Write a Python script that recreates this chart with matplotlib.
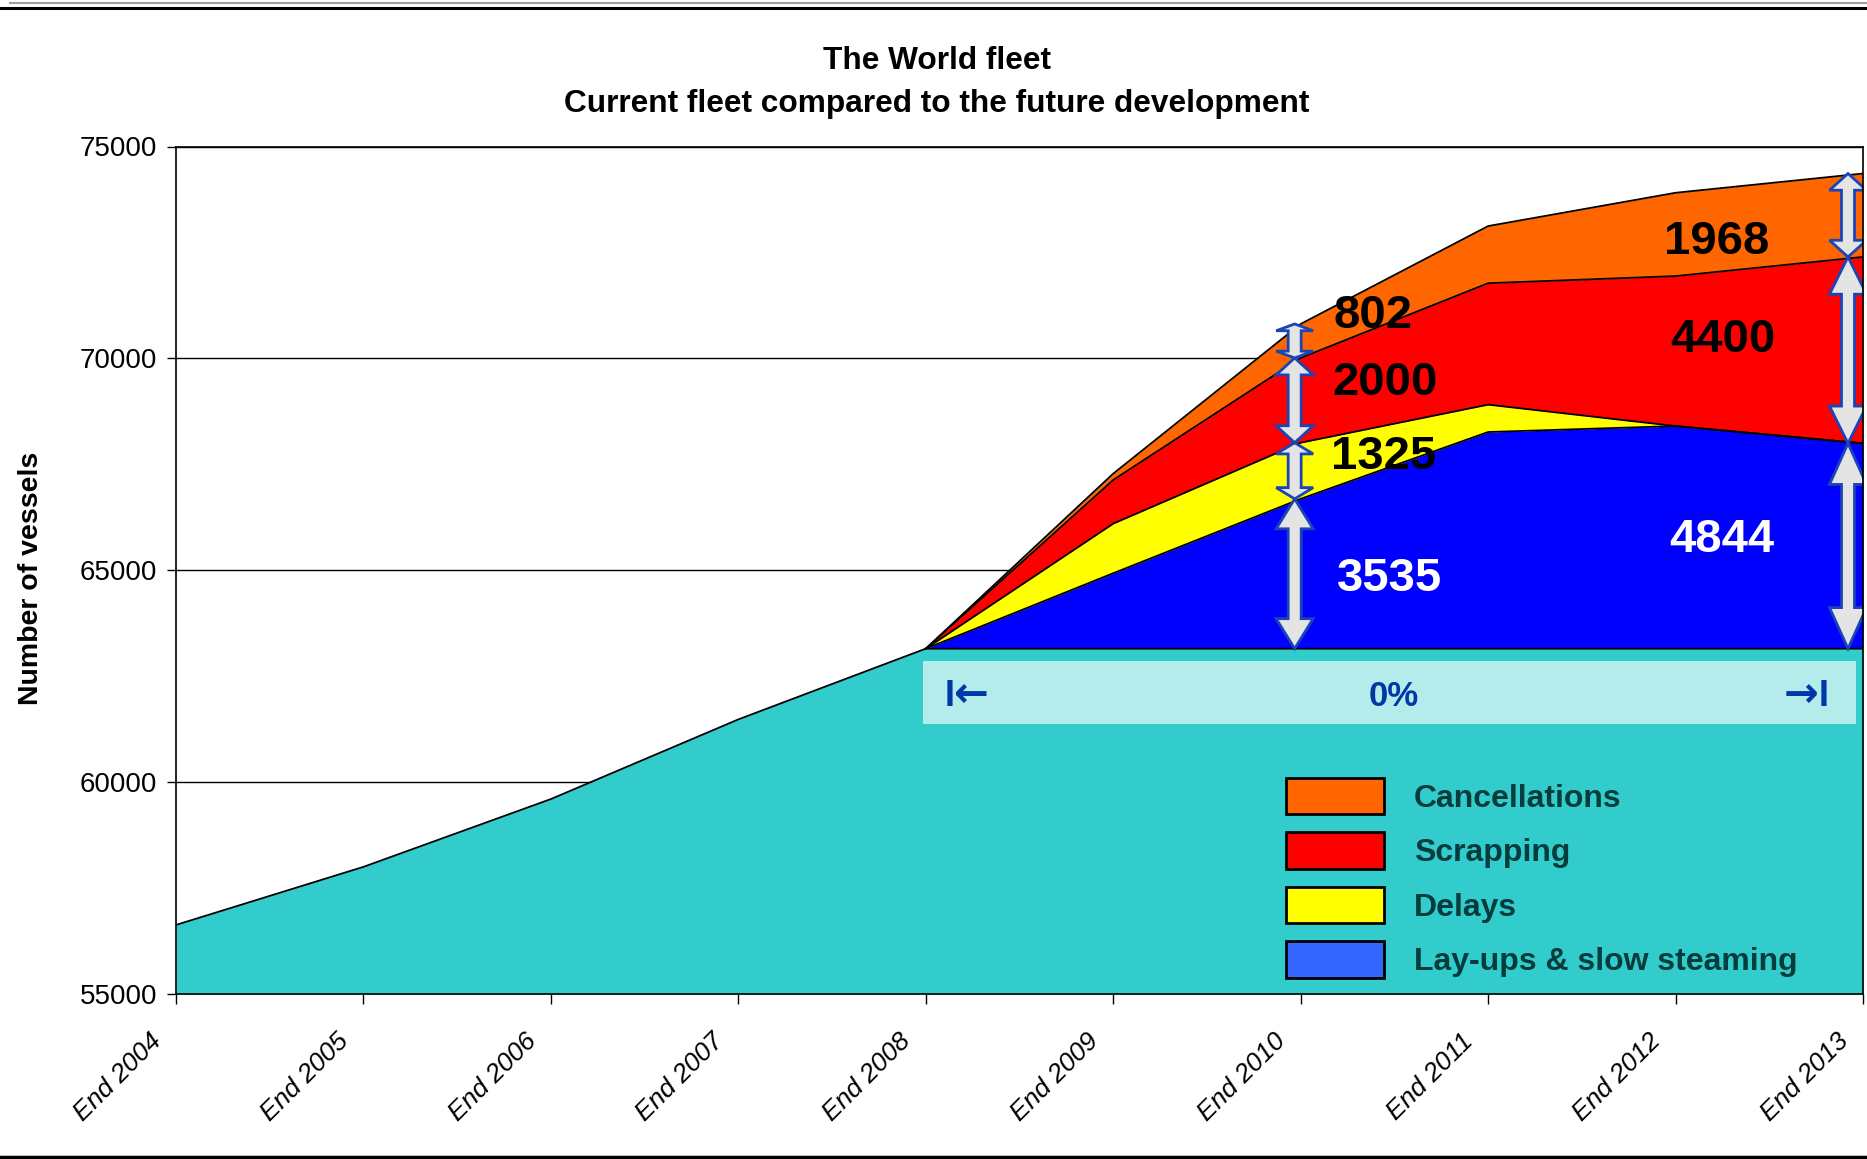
import numpy as np
import matplotlib
matplotlib.use("Agg")
import matplotlib.pyplot as plt
from matplotlib.patches import Polygon, Rectangle, Patch
from matplotlib.lines import Line2D
from matplotlib.transforms import IdentityTransform, ScaledTranslation
from matplotlib.font_manager import FontProperties

plt.rcParams['font.family'] = ['Liberation Sans', 'DejaVu Sans']

# ---------------- data ----------------
years = ["End 2004", "End 2005", "End 2006", "End 2007", "End 2008",
         "End 2009", "End 2010", "End 2011", "End 2012", "End 2013"]
current_fleet = [56630, 58000, 59600, 61480, 63150, 63150, 63150, 63150, 63150, 63150]
nan = np.nan
layups = [nan, nan, nan, nan, 0, 1780, 3535, 5112, 5253, 4844]
delays = [nan, nan, nan, nan, 0, 1170, 1325, 646, 0, 0]
scrapping = [nan, nan, nan, nan, 0, 1030, 2000, 2866, 3539, 4400]
cancellations = [nan, nan, nan, nan, 0, 150, 802, 1348, 1966, 1968]
series_names = ["Lay-ups & slow steaming", "Delays", "Scrapping", "Cancellations"]
growth_label = "0%"

# ---------------- styles ----------------
W, H = 1867, 1159
fleet_color = '#33CCCC'
area_colors = ['#0000FF', '#FFFF00', '#FF0000', '#FF6600']
legend_colors = ['#3366FF', '#FFFF00', '#FF0000', '#FF6600']

fig = plt.figure(figsize=(W / 100, H / 100), dpi=100)
fig.patch.set_facecolor('white')
ax = fig.add_axes([176 / W, 1 - 994 / H, (1863 - 176) / W, (994 - 146.5) / H])
ax.set_xlim(0, 9)
ax.set_ylim(55000, 75000)
ax.set_autoscale_on(False)

x = np.arange(len(years))
fleet = np.array(current_fleet, dtype=float)

# grid
ax.set_yticks(np.arange(55000, 75001, 5000))
ax.yaxis.grid(True, color='black', lw=1.0)
ax.set_axisbelow(True)

# base area
ax.fill_between(x, 55000, fleet, color=fleet_color, lw=0, zorder=2)
ax.plot(x, fleet, color='black', lw=1.3, zorder=3)

# stacked areas
stack = [np.array(s, dtype=float) for s in (layups, delays, scrapping, cancellations)]
bottom = fleet.copy()
tops = []
for vals, col in zip(stack, area_colors):
    top = bottom + vals
    ax.fill_between(x, bottom, top, color=col, lw=0, zorder=2)
    ax.plot(x, top, color='black', lw=1.3, zorder=3)
    tops.append(top)
    bottom = top

# light band with growth label
band = Rectangle((3.986, 61372), 8.96 - 3.986, 62858 - 61372,
                 facecolor='#B4ECEC', edgecolor='none', zorder=4)
ax.add_patch(band)
band_color = '#0038A8'
band_y = 62030
ax.text(6.494, band_y, growth_label, ha='center', va='center', fontsize=25,
        fontweight='bold', color=band_color, zorder=5)
arrow_font = dict(family='DejaVu Sans', fontweight='bold', fontsize=30, color=band_color,
                  ha='center', va='center', zorder=5)
bar_font = dict(fontweight='bold', fontsize=26, color=band_color, ha='center', va='center',
                zorder=5)
ax.text(4.125, band_y, "I", **bar_font)
ax.text(4.242, band_y + 30, "\u2190", **arrow_font)
ax.text(8.667, band_y + 30, "\u2192", **arrow_font)
ax.text(8.792, band_y, "I", **bar_font)


# double-headed arrows
def double_arrow(xd, y0, y1):
    (px, pb) = ax.transData.transform((xd, y0))
    (_, pt) = ax.transData.transform((xd, y1))
    L = pt - pb
    hl = 0.2 * L
    hw = 18.5
    bw = 6.5
    pts = [(px, pt), (px + hw, pt - hl), (px + bw, pt - hl), (px + bw, pb + hl),
           (px + hw, pb + hl), (px, pb), (px - hw, pb + hl), (px - bw, pb + hl),
           (px - bw, pt - hl), (px - hw, pt - hl)]
    poly = Polygon(pts, closed=True, facecolor='#E4E4E4', edgecolor='#1A45B5',
                   lw=2.0, transform=IdentityTransform(), zorder=6)
    poly.set_clip_path(ax.patch)
    ax.add_artist(poly)


arrow_pos = {6: 6 - 6 / 187.4, 9: 9 - 15 / 187.4}
for idx, xa in arrow_pos.items():
    lo = fleet[idx]
    for t in tops:
        hi = t[idx]
        if hi - lo > 1:
            double_arrow(xa, lo, hi)
        lo = hi

# value labels
lab_kw = dict(ha='center', va='center', fontsize=34, fontweight='bold', zorder=7)
ax.text(6.474, 64790, f"{layups[6]}", color='white', **lab_kw)
ax.text(6.442, 67680, f"{delays[6]}", color='black', **lab_kw)
ax.text(6.449, 69420, f"{scrapping[6]}", color='black', **lab_kw)
ax.text(6.385, 70995, f"{cancellations[6]}", color='black', **lab_kw)
ax.text(8.247, 65715, f"{layups[9]}", color='white', **lab_kw)
ax.text(8.253, 70434, f"{scrapping[9]}", color='black', **lab_kw)
ax.text(8.221, 72737, f"{cancellations[9]}", color='black', **lab_kw)

# axes styling
for s in ax.spines.values():
    s.set_color('black')
    s.set_linewidth(1.2)
    s.set_zorder(8)
ax.tick_params(axis='y', direction='out', length=6.5, width=1, labelsize=20, pad=7)
ax.tick_params(axis='x', direction='out', length=7, width=1, labelbottom=False)
ax.set_xticks(x)
xlab_trans = ax.get_xaxis_transform() + ScaledTranslation(-27 / 100, -35 / 100,
                                                            fig.dpi_scale_trans)
for xi, lab in zip(x, years):
    ax.text(xi, 0, lab, transform=xlab_trans, rotation=45, ha='right', va='top',
            rotation_mode='anchor', fontstyle='italic', fontsize=19, clip_on=False)

# legend
handles = [Patch(facecolor=legend_colors[i], edgecolor='black', lw=2, label=series_names[i])
           for i in (3, 2, 1, 0)]
fig.legend(handles=handles, loc='upper left', bbox_to_anchor=(1286 / W, 1 - 778 / H),
           frameon=False, prop=FontProperties(family='Liberation Sans', weight='bold', size=23),
           labelcolor='#063C3C', handlelength=3.06, handleheight=1.37, labelspacing=0.57,
           handletextpad=0.94, borderpad=0, borderaxespad=0)

# titles
fig.text(937 / W, 1 - 61 / H, "The World fleet", ha='center', va='center',
         fontsize=22.8, fontweight='bold')
fig.text(937 / W, 1 - 104 / H, "Current fleet compared to the future development",
         ha='center', va='center', fontsize=22.8, fontweight='bold')
fig.text(31 / W, 1 - 578 / H, "Number of vessels", rotation=90, ha='center', va='center',
         fontsize=20.5, fontweight='bold')

# frame lines
fig.add_artist(Line2D([10 / W, 1], [1 - 3 / H] * 2, color='#A0A0A0', lw=1.5))
fig.add_artist(Line2D([0, 1], [1 - 7.5 / H] * 2, color='black', lw=2.2))
fig.add_artist(Line2D([0, 1], [1 - 1156.5 / H] * 2, color='black', lw=2.5))

fig.savefig('out.png', dpi=100)
